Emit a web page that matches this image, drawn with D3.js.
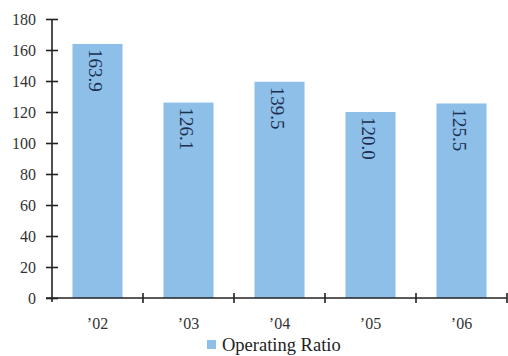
<!DOCTYPE html>
<html>
<head>
<meta charset="utf-8">
<script src="https://cdn.jsdelivr.net/npm/d3@7"></script>
<style>
  html, body { margin: 0; padding: 0; background: #fff; }
  svg { display: block; }
  text { font-family: "Liberation Serif", "Times New Roman", serif; }
</style>
</head>
<body>
<svg id="chart" width="508" height="356"></svg>
<script>
// Operating ratio by year
const years = ["’02", "’03", "’04", "’05", "’06"];
const ratios = [163.9, 126.1, 139.5, 120.0, 125.5];
const yTicks = [0, 20, 40, 60, 80, 100, 120, 140, 160, 180];
const seriesName = "Operating Ratio";

const svg = d3.select("#chart");
const plotLeft = 52, plotRight = 507, plotTop = 19, plotBottom = 298;

const x = d3.scaleBand().domain(years).range([plotLeft, plotRight]).padding(0);
const y = d3.scaleLinear().domain([0, 180]).range([plotBottom, plotTop]);

const barColor = "#8dbfe8";
const barW = x.bandwidth() * 0.55;

// bars
svg.append("g").selectAll("rect")
  .data(years)
  .join("rect")
  .attr("x", (d) => x(d) + (x.bandwidth() - barW) / 2)
  .attr("y", (d, i) => y(ratios[i]))
  .attr("width", barW)
  .attr("height", (d, i) => y(0) - y(ratios[i]))
  .attr("fill", barColor);

// value labels, rotated to read downward inside each bar
svg.append("g").selectAll("text")
  .data(years)
  .join("text")
  .attr("transform", (d, i) => `translate(${x(d) + x.bandwidth() / 2 - 2},${y(ratios[i]) + 5}) rotate(90)`)
  .attr("dominant-baseline", "central")
  .attr("text-anchor", "start")
  .attr("font-size", 19)
  .attr("fill", "#1c2f4f")
  .text((d, i) => ratios[i].toFixed(1));

// y axis with ticks crossing the line
const yAxis = svg.append("g")
  .attr("transform", `translate(${plotLeft},0)`)
  .call(d3.axisLeft(y).tickValues(yTicks).tickSize(6).tickPadding(10).tickFormat(d3.format("d")));
yAxis.select(".domain").attr("d", `M0,${plotTop}V${plotBottom + 4}`).attr("stroke", "#222").attr("stroke-width", 1.6);
yAxis.selectAll(".tick line").attr("x1", -6).attr("x2", 6).attr("stroke", "#222").attr("stroke-width", 1.6);
yAxis.selectAll(".tick text").attr("font-size", 16).attr("fill", "#333").attr("font-family", "Liberation Serif, serif");

// x axis: labels centred in bands, ticks on band boundaries
const xAxis = svg.append("g")
  .attr("transform", `translate(0,${plotBottom})`)
  .call(d3.axisBottom(x).tickSize(0).tickPadding(20));
xAxis.select(".domain").attr("d", `M${plotLeft - 6},0H${plotRight}`).attr("stroke", "#222").attr("stroke-width", 1.6);
xAxis.selectAll(".tick text").attr("font-size", 16).attr("fill", "#333").attr("font-family", "Liberation Serif, serif");
xAxis.selectAll("line.bound")
  .data(years)
  .join("line")
  .attr("class", "bound")
  .attr("x1", (d) => x(d) + x.bandwidth())
  .attr("x2", (d) => x(d) + x.bandwidth())
  .attr("y1", -5)
  .attr("y2", 5)
  .attr("stroke", "#222")
  .attr("stroke-width", 1.6);

// legend
const legend = svg.append("g").attr("transform", "translate(207,340)");
legend.append("rect").attr("width", 9).attr("height", 9).attr("fill", barColor);
legend.append("text")
  .attr("x", 15)
  .attr("y", 11)
  .attr("font-size", 18.5)
  .attr("fill", "#222")
  .text(seriesName);
</script>
</body>
</html>
